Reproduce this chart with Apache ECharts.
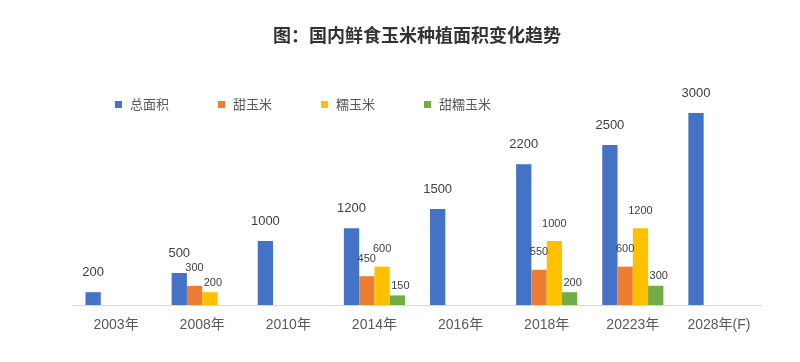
<!DOCTYPE html>
<html>
<head>
<meta charset="utf-8">
<script src="https://cdn.jsdelivr.net/npm/echarts@6/dist/echarts.min.js"></script>
<style>html,body{margin:0;padding:0;background:#fff;}#c{width:800px;height:362px;}</style>
</head>
<body>
<div id="c"></div>
<script>
var categories = ['2003年', '2008年', '2010年', '2014年', '2016年', '2018年', '20223年', '2028年(F)'];
var seriesNames = ['总面积', '甜玉米', '糯玉米', '甜糯玉米'];
var totalArea = [200, 500, 1000, 1200, 1500, 2200, 2500, 3000];
var sweetCorn = [null, 300, null, 450, null, 550, 600, null];
var waxyCorn = [null, 200, null, 600, null, 1000, 1200, null];
var sweetWaxyCorn = [null, null, null, 150, null, 200, 300, null];

var chart = echarts.init(document.getElementById('c'), null, {renderer: 'canvas'});
var numFont = '"Liberation Sans", "Noto Sans CJK SC", sans-serif';
var colors = ['#4472C4', '#ED7D31', '#FFC000', '#70AD47'];
var values = [totalArea, sweetCorn, waxyCorn, sweetWaxyCorn];
var labelCfg = [
  {fontSize: 13, distance: 13, offset: [0, 0]},
  {fontSize: 11, distance: 12, offset: [0, 0]},
  {fontSize: 11, distance: 12, offset: [0, 0]},
  {fontSize: 11, distance: 4, offset: [3, 0]}
];
// individual label placement tweaks (series index, category index)
var labelTweaks = {'2,1': {distance: 4, offset: [3, 0]}};
var series = values.map(function (arr, i) {
  return {
    name: seriesNames[i],
    type: 'bar',
    data: arr.map(function (v, j) {
      if (v == null) return '-';
      var t = labelTweaks[i + ',' + j];
      return t ? {value: v, label: t} : v;
    }),
    itemStyle: {color: colors[i]},
    barGap: '0%',
    barCategoryGap: '29%',
    label: {
      show: true,
      position: 'top',
      distance: labelCfg[i].distance,
      offset: labelCfg[i].offset,
      color: '#404040',
      fontSize: labelCfg[i].fontSize,
      fontFamily: numFont
    }
  };
});

chart.setOption({
  animation: false,
  backgroundColor: '#fff',
  color: colors,
  title: {
    text: '图：国内鲜食玉米种植面积变化趋势',
    left: 412,
    textAlign: 'center',
    top: 21,
    textStyle: {fontSize: 18, fontWeight: 'bold', color: '#333333', fontFamily: '"Noto Sans CJK SC", sans-serif'}
  },
  legend: {
    data: seriesNames,
    left: 110,
    top: 93,
    itemWidth: 7,
    itemHeight: 7,
    itemGap: 49,
    icon: 'rect',
    textStyle: {fontSize: 13, color: '#595959', fontFamily: '"Noto Sans CJK SC", sans-serif', padding: [0, 0, 0, 3]}
  },
  grid: {left: 73, right: 38, top: 81, bottom: 57, containLabel: false},
  xAxis: {
    type: 'category',
    data: categories,
    axisLine: {show: true, lineStyle: {color: '#D9D9D9', width: 1}},
    axisTick: {show: false},
    axisLabel: {color: '#595959', fontSize: 14, margin: 13, fontFamily: numFont},
    splitLine: {show: false}
  },
  yAxis: {
    type: 'value',
    min: 0,
    max: 3500,
    show: false,
    splitLine: {show: false}
  },
  series: series
});
</script>
</body>
</html>
